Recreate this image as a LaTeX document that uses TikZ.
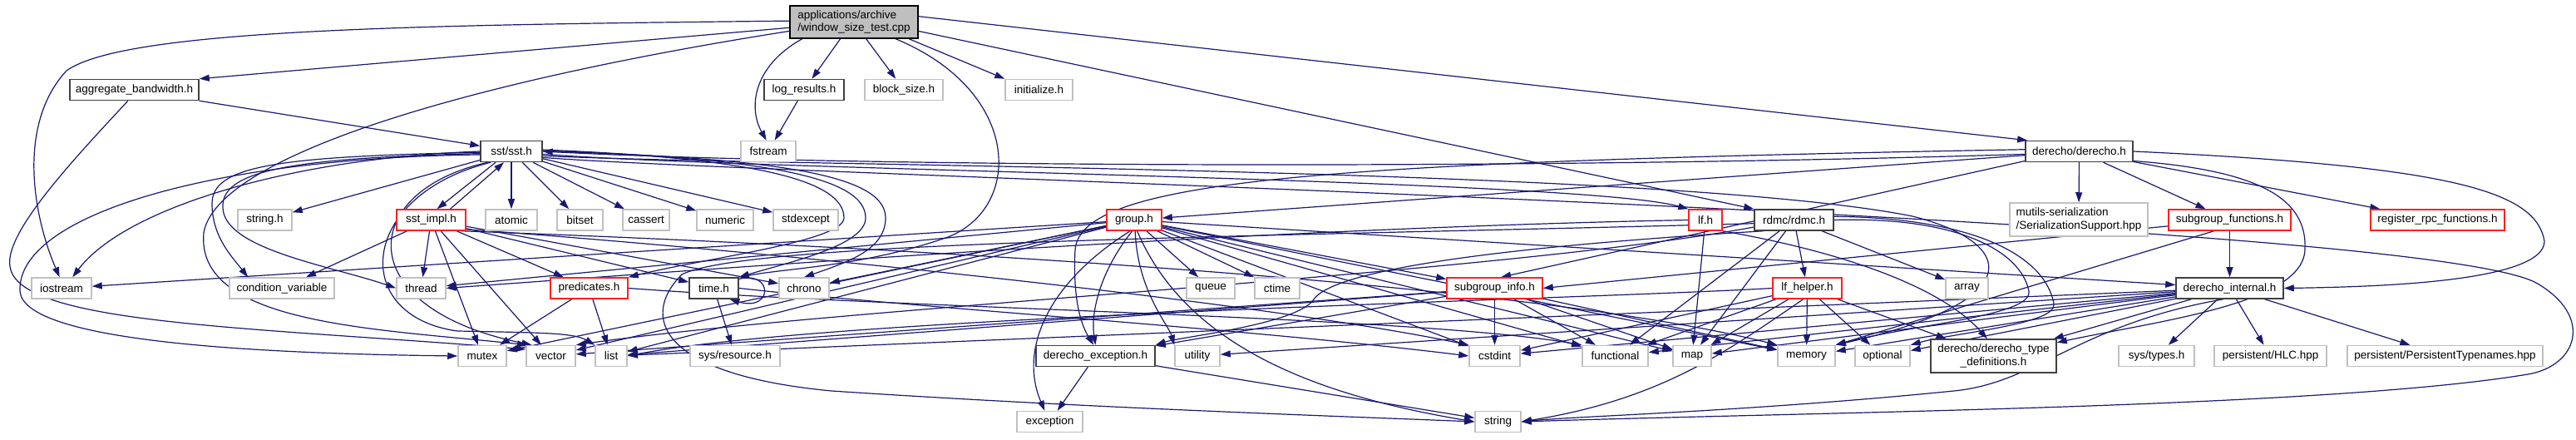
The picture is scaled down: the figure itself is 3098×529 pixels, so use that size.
\documentclass[tikz,border=0pt]{standalone}
\usepackage{fontspec}
\setmainfont{Liberation Sans}
\usepackage{tikz}
\usetikzlibrary{arrows.meta, positioning, calc}
\definecolor{cedge}{HTML}{191970}
\definecolor{cred}{HTML}{FF2020}
\definecolor{cgray}{HTML}{C0C0C0}
\definecolor{cdark}{HTML}{404040}
\definecolor{cfill}{HTML}{BFBFBF}
\pgfdeclarelayer{edges}
\pgfsetlayers{edges,main}

\begin{document}
\begin{tikzpicture}[x=1pt, y=-1pt,
  hdr/.style={draw=cdark, line width=1.5pt, fill=white, font=\fontsize{13.5}{15.5}\selectfont, minimum height=25pt, inner sep=0pt, align=center},
  redhdr/.style={hdr, draw=cred},
  syshdr/.style={hdr, draw=cgray},
  mainhdr/.style={hdr, draw=black, fill=cfill, align=left, minimum height=39pt},
  dep/.style={cedge, line width=1.2pt, -{Triangle[length=12pt, width=8pt]}}]
  \useasboundingbox (0,0) rectangle (3098,529);

  % Files
  \node[mainhdr, minimum width=154pt] (main) at (1027,26.5) {applications/archive\\/window\_size\_test.cpp};

  \node[hdr, minimum width=155pt] (aggbw) at (161.5,108) {aggregate\_bandwidth.h};
  \node[hdr, minimum width=96pt] (logres) at (967,108) {log\_results.h};
  \node[syshdr, minimum width=94pt] (blocksize) at (1087,108) {block\_size.h};
  \node[syshdr, minimum width=81pt] (initialize) at (1249.5,108) {initialize.h};

  \node[hdr, minimum width=74pt] (sst) at (615,182) {sst/sst.h};
  \node[syshdr, minimum width=66pt] (fstream) at (924,182) {fstream};
  \node[hdr, minimum width=129pt] (derecho) at (2500.5,182) {derecho/derecho.h};

  \node[syshdr, minimum width=65pt] (stringh) at (318.5,264.5) {string.h};
  \node[redhdr, minimum width=83pt] (sstimpl) at (518.5,264.5) {sst\_impl.h};
  \node[syshdr, minimum width=62pt] (atomic) at (615,264.5) {atomic};
  \node[syshdr, minimum width=55pt] (bitset) at (697.5,264.5) {bitset};
  \node[syshdr, minimum width=56pt] (cassert) at (777,264.5) {cassert};
  \node[syshdr, minimum width=68pt] (numeric) at (872,264.5) {numeric};
  \node[syshdr, minimum width=78pt] (stdexcept) at (969,264.5) {stdexcept};
  \node[redhdr, minimum width=66pt] (group) at (1364,264.5) {group.h};
  \node[redhdr, minimum width=40pt] (lf) at (2051,264.5) {lf.h};
  \node[hdr, minimum width=95pt] (rdmc) at (2157.5,264.5) {rdmc/rdmc.h};
  \node[syshdr, minimum width=166pt, minimum height=40pt, align=left] (mutils) at (2500,264) {mutils-serialization\\/SerializationSupport.hpp};
  \node[redhdr, minimum width=147pt] (sgfunctions) at (2681.5,264.5) {subgroup\_functions.h};
  \node[redhdr, minimum width=161pt] (registerrpc) at (2931.5,264.5) {register\_rpc\_functions.h};

  \node[syshdr, minimum width=72pt] (iostream) at (74,346.5) {iostream};
  \node[syshdr, minimum width=126pt] (condvar) at (339,346.5) {condition\_variable};
  \node[syshdr, minimum width=59pt] (thread) at (506.5,346.5) {thread};
  \node[redhdr, minimum width=93pt] (predicates) at (708.5,346.5) {predicates.h};
  \node[hdr, minimum width=59pt] (timeh) at (858.5,346.5) {time.h};
  \node[syshdr, minimum width=60pt] (chrono) at (967,346.5) {chrono};
  \node[syshdr, minimum width=58pt] (queue) at (1456,346.5) {queue};
  \node[syshdr, minimum width=54pt] (ctime) at (1536,346.5) {ctime};
  \node[redhdr, minimum width=115pt] (sginfo) at (1797.5,346.5) {subgroup\_info.h};
  \node[redhdr, minimum width=83pt] (lfhelper) at (2173.5,346.5) {lf\_helper.h};
  \node[syshdr, minimum width=51pt] (array) at (2365.5,346.5) {array};
  \node[hdr, minimum width=129pt] (dinternal) at (2681.5,346.5) {derecho\_internal.h};

  \node[syshdr, minimum width=58pt] (mutex) at (580,428) {mutex};
  \node[syshdr, minimum width=59pt] (vector) at (662.5,428) {vector};
  \node[syshdr, minimum width=38pt] (list) at (735,428) {list};
  \node[syshdr, minimum width=108pt] (sysresource) at (884,428) {sys/resource.h};
  \node[hdr, minimum width=143pt] (dexception) at (1317.5,428) {derecho\_exception.h};
  \node[syshdr, minimum width=54pt] (utility) at (1440,428) {utility};
  \node[syshdr, minimum width=61pt] (cstdint) at (1797.5,428) {cstdint};
  \node[syshdr, minimum width=79pt] (functional) at (1942.5,428) {functional};
  \node[syshdr, minimum width=46pt] (map) at (2035,428) {map};
  \node[syshdr, minimum width=69pt] (memory) at (2172.5,428) {memory};
  \node[syshdr, minimum width=66pt] (optional) at (2264,428) {optional};
  \node[hdr, minimum width=151pt, minimum height=40pt] (dtypes) at (2397.5,428) {derecho/derecho\_type\\\_definitions.h};
  \node[syshdr, minimum width=91pt] (systypes) at (2593.5,428) {sys/types.h};
  \node[syshdr, minimum width=135pt] (hlc) at (2730.5,428) {persistent/HLC.hpp};
  \node[syshdr, minimum width=235pt] (ptypenames) at (2940.5,428) {persistent/PersistentTypenames.hpp};

  \node[syshdr, minimum width=79pt] (exception) at (1262.5,507) {exception};
  \node[syshdr, minimum width=55pt] (string) at (1801.5,507) {string};

  \begin{pgfonlayer}{edges}
  % Test program
  \draw[dep] (main.179) .. controls (500,30) and (150,35) .. (80,85) .. controls (20,150) and (40,260) .. (iostream.100);
  \draw[dep] (main.185) -- (aggbw.north east);
  \draw[dep] (main.188) .. controls (550,100) and (260,190) .. (245,280) .. controls (235,390) and (450,395) .. (vector.155);
  \draw[dep] (main.231) -- (logres);
  \draw[dep] (main.198) .. controls (905,80) and (900,130) .. (fstream.100);
  \draw[dep] (main.306) -- (blocksize);
  \draw[dep] (main.343) -- (initialize.north west);
  \draw[dep] (main.338) .. controls (1230,110) and (1230,250) .. (1140,285) .. controls (1040,320) and (950,322) .. (timeh.north east);
  \draw[dep] (main.5) -- (derecho.168);
  \draw[dep] (main.352) -- (rdmc.north west);

  \draw[dep] (aggbw.south east) -- (sst.170);
  \draw[dep] (aggbw.240) .. controls (90,190) and (5,280) .. (12,320) .. controls (20,390) and (300,393) .. (vector.165);
  \draw[dep] (logres) -- (fstream);

  % sst
  \foreach \t in {atomic,bitset,cassert,numeric,stdexcept}
    \draw[dep] (sst) -- (\t);
  \draw[dep] (sst) -- (stringh);
  \draw[dep] (sst.215) -- (sstimpl.62);
  \draw[dep] (sstimpl.30) -- (sst.236);
  \draw[dep] (sst.180) .. controls (350,190) and (150,250) .. (iostream.45);
  \draw[dep] (sst.182) .. controls (330,188) and (255,200) .. (255,245) .. controls (255,285) and (280,310) .. (condvar.162);
  \draw[dep] (sst.184) .. controls (350,190) and (265,205) .. (268,250) .. controls (270,300) and (400,320) .. (thread.west);
  \draw[dep] (sst.186) .. controls (250,190) and (20,260) .. (24,350) .. controls (28,410) and (300,425) .. (mutex.west);
  \draw[dep] (sst.205) .. controls (430,230) and (420,370) .. (vector.150);
  \draw[dep] (sst.208) .. controls (430,235) and (420,380) .. (550,398) .. controls (650,400) and (690,400) .. (list.north west);
  \draw[dep] (sst.3) .. controls (900,190) and (1015,215) .. (1015,262) .. controls (1015,290) and (850,310) .. (predicates.north east);
  \draw[dep] (sst.1) .. controls (930,190) and (1041,215) .. (1041,262) .. controls (1041,295) and (950,315) .. (timeh.north east);
  \draw[dep] (sst.0) .. controls (960,190) and (1065,215) .. (1065,262) .. controls (1065,300) and (1020,315) .. (chrono.north);
  \draw[dep] (sst.355) .. controls (900,205) and (1900,215) .. (lf.north west);
  \draw[dep] (sst.352) .. controls (900,200) and (2000,200) .. (2300,260) .. controls (2420,290) and (2450,360) .. (memory.north east);
  \draw[dep] (sst.349) .. controls (900,210) and (2900,260) .. (3050,340) .. controls (3120,380) and (3100,440) .. (3040,450) .. controls (2800,490) and (2200,495) .. (string.east);

  % sst_impl, predicates, time
  \foreach \t in {condvar,thread,mutex,vector,predicates,timeh,chrono}
    \draw[dep] (sstimpl) -- (\t);
  \draw[dep] (sstimpl.345) .. controls (900,300) and (1500,360) .. (cstdint.north west);
  \draw[dep] (sstimpl.340) .. controls (900,290) and (1800,330) .. (memory.north west);
  \draw[dep] (predicates) -- (mutex);
  \draw[dep] (predicates) -- (list);
  \draw[dep] (predicates.east) .. controls (1100,372) and (1700,380) .. (functional.north west);
  \draw[dep] (timeh) -- (sysresource);
  \draw[dep] (timeh.20) .. controls (930,325) and (930,375) .. (timeh.-35);
  \draw[dep] (timeh.east) .. controls (1100,370) and (1500,395) .. (cstdint.west);

  % group
  \foreach \t in {iostream,thread,chrono,mutex,vector,list,queue,ctime,sginfo,cstdint,functional,map,memory,dinternal}
    \draw[dep] (group) -- (\t);
  \draw[dep] (group.260) .. controls (1320,330) and (1312,380) .. (dexception.north);
  \draw[dep] (group.275) .. controls (1368,350) and (1405,390) .. (utility.north west);
  \draw[dep] (group.250) .. controls (1260,340) and (1225,420) .. (exception.115);
  \draw[dep] (group.285) .. controls (1420,400) and (1550,470) .. (string.west);
  \draw[dep] (dexception) -- (exception);
  \draw[dep] (dexception) -- (string);

  % derecho.h
  \draw[dep] (derecho.183) .. controls (1800,205) and (1000,200) .. (sst.east);
  \draw[dep] (derecho) -- (group);
  \draw[dep] (derecho.178) .. controls (1600,195) and (1300,215) .. (1293,300) .. controls (1290,360) and (1300,390) .. (dexception.100);
  \draw[dep] (derecho.190) -- (sginfo.60);
  \foreach \t in {mutils,sgfunctions,registerrpc}
    \draw[dep] (derecho) -- (\t);
  \draw[dep] (derecho.east) .. controls (2950,200) and (3050,230) .. (3060,290) .. controls (3060,340) and (2850,345) .. (dinternal.east);
  \draw[dep] (derecho.350) .. controls (2720,205) and (2775,240) .. (2772,300) .. controls (2770,365) and (2600,385) .. (dtypes.12);

  % lf, rdmc, lf_helper
  \draw[dep] (lf) -- (map);
  \draw[dep] (lf.west) .. controls (1500,275) and (900,320) .. (thread.east);
  \draw[dep] (lf.south east) .. controls (2200,300) and (2330,340) .. (dtypes.110);
  \foreach \t in {lfhelper,functional,map,array}
    \draw[dep] (rdmc) -- (\t);
  \draw[dep] (rdmc.east) .. controls (2350,260) and (2430,300) .. (2440,350) .. controls (2445,380) and (2300,390) .. (memory.north east);
  \draw[dep] (rdmc.5) .. controls (2380,262) and (2460,310) .. (2470,365) .. controls (2475,390) and (2350,400) .. (optional.north east);
  \draw[dep] (rdmc.200) .. controls (1750,300) and (1600,330) .. (1580,360) .. controls (1560,390) and (1420,405) .. (dexception.north east);
  \draw[dep] (rdmc.185) .. controls (1500,285) and (900,290) .. (820,330) .. controls (770,380) and (790,450) .. (1000,470) .. controls (1300,490) and (1600,500) .. (string.west);
  \draw[dep] (rdmc.190) .. controls (1800,330) and (1000,370) .. (vector.north east);
  \foreach \t in {cstdint,functional,map,memory,optional,dtypes}
    \draw[dep] (lfhelper) -- (\t);
  \draw[dep] (lfhelper.250) .. controls (2080,420) and (2000,480) .. (string.east);
  \draw[dep] (lfhelper.west) .. controls (1900,360) and (1000,380) .. (list.east);

  % subgroup_info, subgroup_functions
  \foreach \t in {cstdint,functional,map,memory,dexception,vector,list}
    \draw[dep] (sginfo) -- (\t);
  \draw[dep] (sgfunctions) -- (sginfo.east);
  \draw[dep] (sgfunctions) -- (dinternal);
  \draw[dep] (sgfunctions.215) -- (memory.north east);

  % derecho_internal
  \foreach \t in {systypes,hlc,ptypenames,dtypes,optional,memory,map,functional,cstdint,utility,list}
    \draw[dep] (dinternal) -- (\t);
  \draw[dep] (dinternal.240) .. controls (2500,390) and (2450,460) .. (2350,470) .. controls (2100,495) and (1900,500) .. (string.east);
  \end{pgfonlayer}
\end{tikzpicture}
\end{document}
